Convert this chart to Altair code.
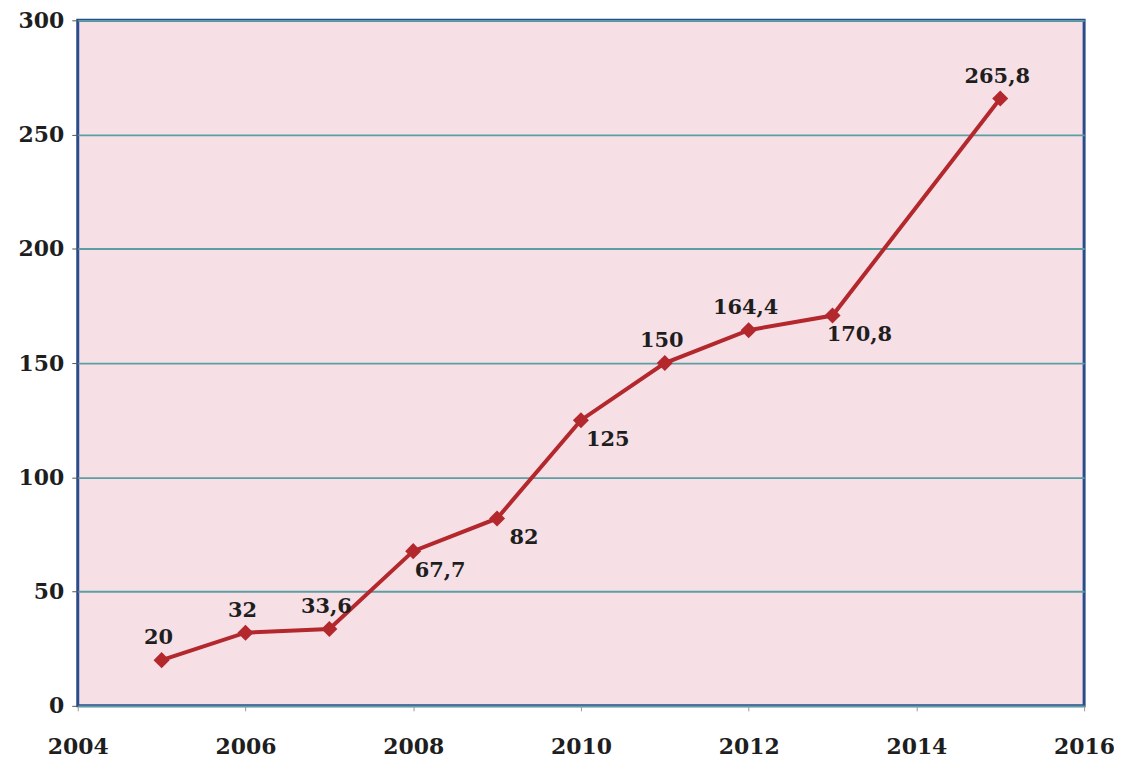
import altair as alt
import pandas as pd

years = [2005, 2006, 2007, 2008, 2009, 2010, 2011, 2012, 2013, 2015]
values = [20, 32, 33.6, 67.7, 82, 125, 150, 164.4, 170.8, 265.8]
below_years = [2008, 2009, 2010, 2013]

df = pd.DataFrame({"year": years, "value": values})
df["pos"] = ["below" if y in below_years else "above" for y in years]

FONT = "DejaVu Serif"
RED = "#b3282d"

x = alt.X("year:Q", scale=alt.Scale(domain=[2004, 2016], nice=False),
          axis=alt.Axis(values=[2004, 2006, 2008, 2010, 2012, 2014, 2016], format="d",
                        title=None, grid=False, domain=False, tickColor="#999999",
                        tickSize=5, labelPadding=26, labelFont=FONT, labelFontWeight="bold",
                        labelFontSize=22, labelColor="#1e1e1e", labelFlush=False))
y = alt.Y("value:Q", scale=alt.Scale(domain=[0, 300], nice=False),
          axis=alt.Axis(values=[0, 50, 100, 150, 200, 250, 300], title=None, grid=True,
                        gridColor="#5c9fa2", gridWidth=1.8, domain=False,
                        tickColor="#555555", tickSize=6, labelPadding=8,
                        labelFont=FONT, labelFontWeight="bold", labelFontSize=22,
                        labelColor="#1e1e1e"))

base = alt.Chart(df).encode(x=x, y=y)

line = base.mark_line(color=RED, strokeWidth=4)
points = base.mark_point(shape="diamond", filled=True, color=RED, size=260, opacity=1)

label = base.transform_calculate(
    lab="replace(toString(datum.value), '.', ',')"
)
above = label.transform_filter("datum.pos == 'above'").mark_text(
    font=FONT, fontWeight="bold", fontSize=21, color="#1e1e1e", dy=-22, dx=-3
).encode(text="lab:N")
below = label.transform_filter("datum.pos == 'below'").mark_text(
    font=FONT, fontWeight="bold", fontSize=21, color="#1e1e1e", dy=20, dx=27
).encode(text="lab:N")

chart = alt.layer(line, points, above, below).properties(
    width=1010, height=688,
    autosize=alt.AutoSizeParams(type="none"),
    padding={"left": 70, "top": 11, "right": 30, "bottom": 55},
    background="white",
).configure_view(
    fill="#f7dfe6", stroke="#2a4b8d", strokeWidth=3
)

chart.save("out.html", embed_options={"renderer": "svg", "actions": False})
